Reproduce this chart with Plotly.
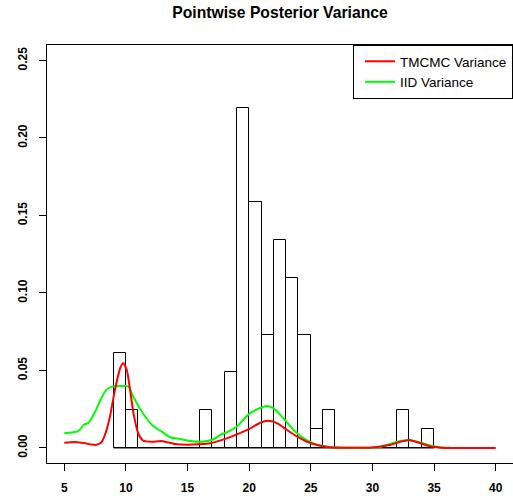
import plotly.graph_objects as go

# Histogram (density, bin width 1)
bin_left = [9, 10, 11, 12, 13, 14, 15, 16, 17, 18, 19, 20, 21, 22, 23, 24, 25, 26, 27, 28, 29, 30, 31, 32, 33, 34]
density = [0.061, 0.0244, 0, 0, 0, 0, 0, 0.0244, 0, 0.0488, 0.2195, 0.1585, 0.0732, 0.1341,
           0.1098, 0.0732, 0.0122, 0.0244, 0, 0, 0, 0, 0, 0.0244, 0, 0.0122]
bin_width = 1

# TMCMC variance curve
tm_x = [5, 5.9, 6.7, 7.2, 7.6, 8.0, 8.3, 8.7, 9.1, 9.54, 9.8, 10.08, 10.35, 10.6, 11.0, 11.4, 12.1,
        12.9, 14.0, 15.5, 16.8, 17.8, 19.0, 20.1, 20.9, 21.5, 22.25, 23.06, 23.9, 24.7, 25.5,
        26.6, 28, 29.8, 31.4, 32.25, 33.0, 33.9, 34.7, 35.5, 37, 40]
tm_y = [0.0034, 0.0039, 0.003, 0.0022, 0.002, 0.0035, 0.0084, 0.020, 0.037, 0.0516, 0.0546, 0.050,
        0.037, 0.023, 0.0095, 0.0047, 0.004, 0.0045, 0.0025, 0.0022, 0.003, 0.0052, 0.0088,
        0.0127, 0.0163, 0.0175, 0.016, 0.0116, 0.0073, 0.004, 0.0019, 0.0004, 0.0001, 0.0002,
        0.0019, 0.004, 0.0052, 0.003, 0.0009, 0.0002, 0.0, 0.0]

# IID variance curve
iid_x = [5, 6.16, 6.57, 6.97, 7.5, 8.06, 8.46, 8.87, 9.68, 10.2, 10.6, 11.3, 12.1, 12.9, 13.6,
         14.4, 15.2, 16.17, 17.1, 17.65, 18.3, 19.0, 19.5, 20.1, 20.9, 21.4, 21.97, 22.8, 23.6,
         24.4, 25.2, 26.0, 27.1, 29, 30.5, 31.4, 32.25, 33.0, 33.9, 34.6, 35.5, 36.5]
iid_y = [0.0095, 0.011, 0.0148, 0.0163, 0.0234, 0.033, 0.0378, 0.0396, 0.040, 0.0396, 0.033,
         0.0234, 0.015, 0.0105, 0.0069, 0.0058, 0.0045, 0.004, 0.0056, 0.0084, 0.0105, 0.0138,
         0.018, 0.0226, 0.0258, 0.0271, 0.0256, 0.019, 0.0116, 0.0063, 0.003, 0.0013, 0.0003,
         0.0001, 0.0005, 0.0025, 0.0045, 0.005, 0.0035, 0.0018, 0.0004, 0.0]

x_ticks = [5, 10, 15, 20, 25, 30, 35, 40]
y_ticks = [0.00, 0.05, 0.10, 0.15, 0.20, 0.25]
y_tick_labels = ["0.00", "0.05", "0.10", "0.15", "0.20", "0.25"]

FONT = "Liberation Sans, Arial, Helvetica, sans-serif"

fig = go.Figure()

fig.add_trace(go.Bar(
    x=[b + bin_width / 2 for b in bin_left], y=density, width=bin_width,
    marker=dict(color="rgba(0,0,0,0)", line=dict(color="black", width=1)),
    showlegend=False, hoverinfo="skip"))

# baseline for empty bins
fig.add_trace(go.Scatter(
    x=[bin_left[0], bin_left[-1] + bin_width], y=[0, 0], mode="lines",
    line=dict(color="black", width=1), showlegend=False, hoverinfo="skip"))

fig.add_trace(go.Scatter(
    x=iid_x, y=iid_y, mode="lines", name="IID Variance", legendrank=2,
    line=dict(color="#00FF00", width=2, shape="spline", smoothing=0.8)))

fig.add_trace(go.Scatter(
    x=tm_x, y=tm_y, mode="lines", name="TMCMC Variance", legendrank=1,
    line=dict(color="#FF0000", width=2, shape="spline", smoothing=0.6)))

fig.update_layout(
    width=513, height=504,
    margin=dict(l=47, r=0, t=45, b=41),
    paper_bgcolor="white", plot_bgcolor="white",
    font=dict(family=FONT, color="black", size=12),
    title=dict(text="<b>Pointwise Posterior Variance</b>", x=0.5, xref="paper",
               y=1 - 13 / 504, yref="container", yanchor="middle", xanchor="center",
               font=dict(size=15.7, family=FONT, color="black")),
    bargap=0,
    showlegend=True,
    legend=dict(x=1, xanchor="right", y=1, yanchor="top", bordercolor="black",
                borderwidth=1, bgcolor="white", itemwidth=30, indentation=6,
                font=dict(size=13.5, family=FONT, color="black"),
                tracegroupgap=0),
    xaxis=dict(range=[3.6, 41.4], tickmode="array", tickvals=x_ticks,
               ticks="outside", ticklen=7, tickwidth=1, tickcolor="black",
               showline=True, linecolor="black", linewidth=1, mirror=True,
               showgrid=False, zeroline=False, ticklabelstandoff=7,
               tickfont=dict(size=12, family=FONT, weight="bold")),
    yaxis=dict(range=[-0.0097, 0.26], tickmode="array", tickvals=y_ticks,
               ticktext=y_tick_labels, tickangle=-90,
               ticks="outside", ticklen=7, tickwidth=1, tickcolor="black",
               showline=True, linecolor="black", linewidth=1, mirror=True,
               showgrid=False, zeroline=False, ticklabelstandoff=7,
               tickfont=dict(size=12, family=FONT, weight="bold")),
)

fig.write_html("out.html")
